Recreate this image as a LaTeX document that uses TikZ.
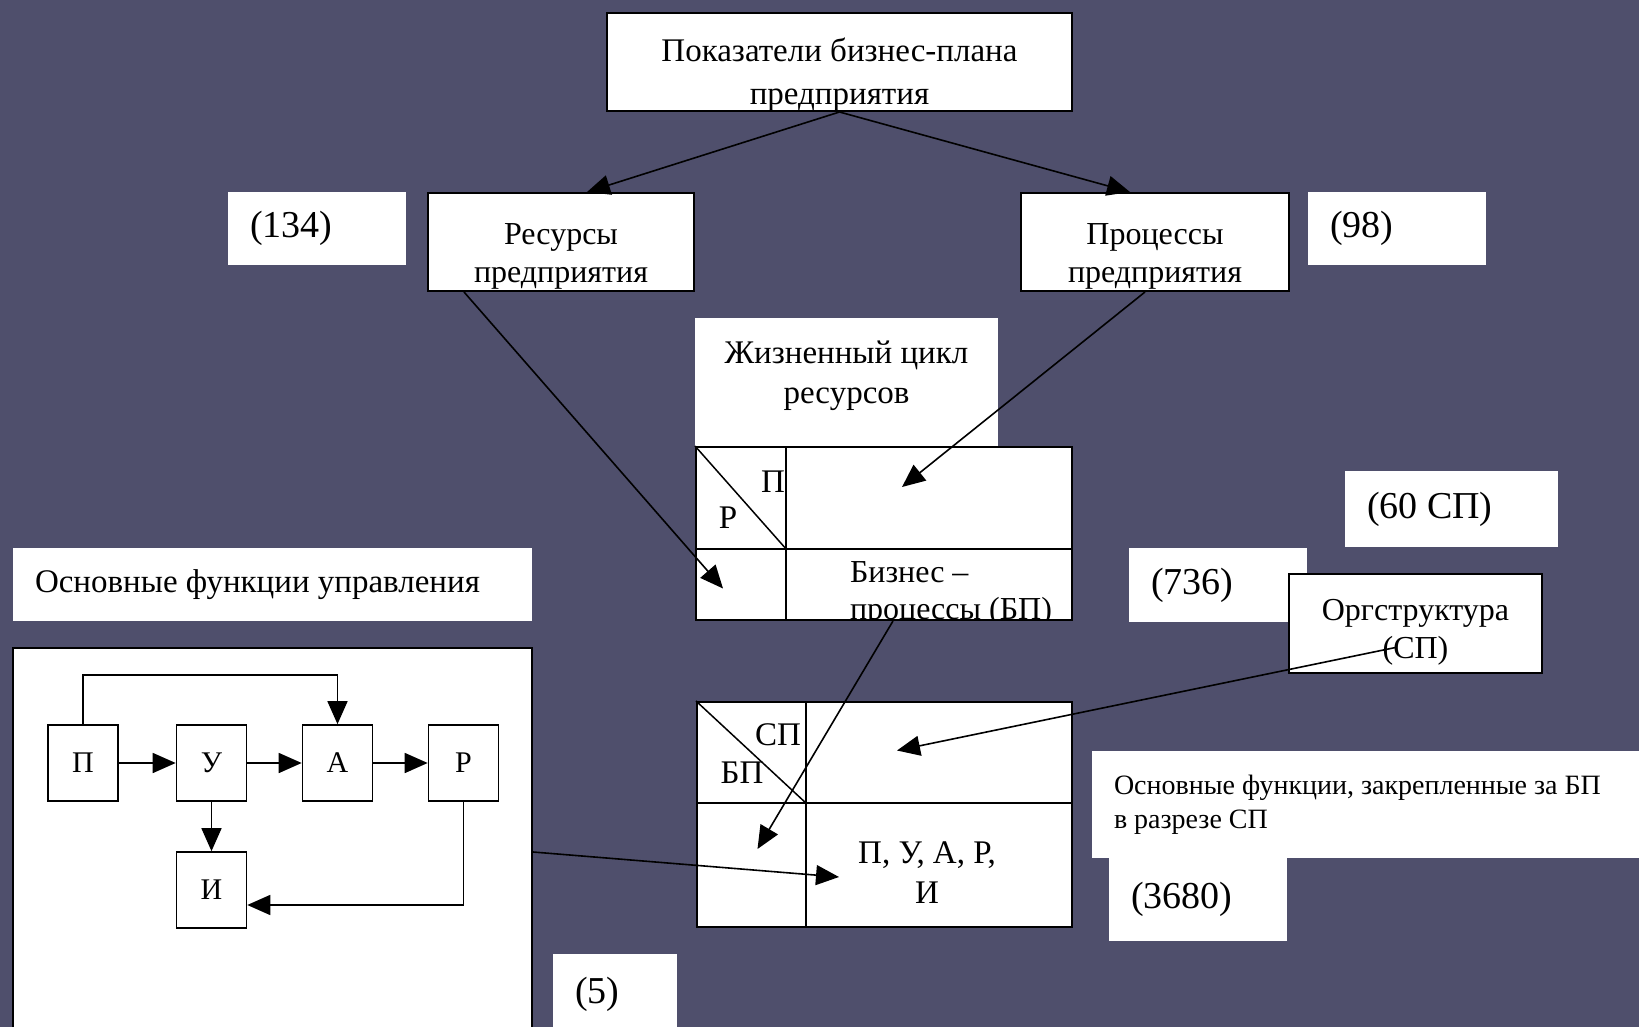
\documentclass[tikz,border=0pt]{standalone}
\usepackage{fontspec}
\setmainfont{Liberation Serif}
\usetikzlibrary{arrows.meta}
\definecolor{slide}{RGB}{79,79,108}

\begin{document}
\begin{tikzpicture}[x=1pt,y=-1pt,font=\fontsize{33}{40}\selectfont,
  box/.style={draw,line width=2pt,fill=white,inner sep=0pt},
  cell/.style={draw,line width=2pt,fill=white,inner sep=0pt},
  cnt/.style={fill=white,inner ysep=0pt,inner xsep=22pt,align=flush left,
              font=\fontsize{38}{44}\selectfont},
  fn/.style={draw,line width=1.6pt,fill=white,inner sep=0pt,
             minimum width=70pt,minimum height=76pt,font=\fontsize{30}{36}\selectfont},
  arr/.style={line width=1.6pt,-{Triangle[length=23pt,width=20pt]}}]
  \fill[slide] (0,0) rectangle (1639,1027);
  \useasboundingbox (0,0) rectangle (1639,1027);

  \node[cnt,text width=134pt,minimum height=73pt] (n134) at (317,228.5) {(134)};
  \node[cnt,text width=134pt,minimum height=73pt] (n98) at (1397,228.5) {(98)};
  \node[cnt,text width=169pt,minimum height=76pt] (n60) at (1451.5,509) {(60 СП)};
  \node[cnt,text width=134pt,minimum height=74pt] (n736) at (1218,585) {(736)};
  \node[cnt,text width=134pt,minimum height=83pt] (n3680) at (1198,899.5) {(3680)};
  \node[cnt,text width=80pt,minimum height=81pt] (n5) at (615,994.5) {(5)};
  \node[cnt,text width=475pt,minimum height=73pt,font=\fontsize{33}{40}\selectfont]
    (fhead) at (272.5,584.5) {Основные функции управления};
  \node[cnt,text width=514pt,minimum height=107pt,font=\fontsize{28}{34}\selectfont]
    (fnote) at (1371,804.5) {Основные функции, закрепленные за БП\\в разрезе СП};
  \node[fill=white,inner sep=0pt,minimum width=303pt,minimum height=129pt,
    path picture={\node[align=center] at ([yshift=7pt]path picture bounding box.center)
      {Жизненный цикл\\ресурсов};}] (life) at (846.5,382.5) {};

  \node[box,minimum width=465pt,minimum height=98pt,
    path picture={\node[align=center,font=\fontsize{33}{43}\selectfont]
      at ([yshift=-13pt]path picture bounding box.center) {Показатели бизнес-плана\\предприятия};}]
    (plan) at (839.5,62) {};
  \node[box,minimum width=266pt,minimum height=98pt,
    path picture={\node[align=center,font=\fontsize{32}{38}\selectfont]
      at ([yshift=-14pt]path picture bounding box.center) {Ресурсы\\предприятия};}]
    (res) at (561,242) {};
  \node[box,minimum width=268pt,minimum height=98pt,
    path picture={\node[align=center,font=\fontsize{32}{38}\selectfont]
      at ([yshift=-14pt]path picture bounding box.center) {Процессы\\предприятия};}]
    (proc) at (1155,242) {};
  \node[box,minimum width=253pt,minimum height=99pt,
    path picture={\node[align=center,font=\fontsize{32}{38}\selectfont]
      at ([yshift=-9pt]path picture bounding box.center) {Оргструктура\\(СП)};}]
    (org) at (1415.5,623.5) {};

  \node[cell,minimum width=90pt,minimum height=102pt] (t1a) at (741,498) {};
  \node[cell,minimum width=286pt,minimum height=102pt] (t1b) at (929,498) {};
  \node[cell,minimum width=90pt,minimum height=71pt] (t1c) at (741,584.5) {};
  \node[cell,minimum width=286pt,minimum height=71pt,
    path picture={\node[anchor=north west,align=left,inner sep=0pt,font=\fontsize{32}{37}\selectfont]
      at ([xshift=21pt,yshift=-8pt]path picture bounding box.north west) {Бизнес –\\процессы (БП)};}]
    (t1d) at (929,584.5) {};
  \draw[line width=1.5pt] (t1a.north west) -- (t1a.south east);
  \node (t1p) at (773,482) {П};
  \node (t1r) at (728,518) {Р};

  \node[cell,minimum width=109pt,minimum height=101pt] (t2a) at (751.5,752.5) {};
  \node[cell,minimum width=266pt,minimum height=101pt] (t2b) at (939,752.5) {};
  \node[cell,minimum width=109pt,minimum height=124pt] (t2c) at (751.5,865) {};
  \node[cell,minimum width=266pt,minimum height=124pt,
    path picture={\node[align=center]
      at ([xshift=-12pt,yshift=-8pt]path picture bounding box.center) {П, У, А, Р,\\И};}]
    (t2d) at (939,865) {};
  \draw[line width=1.5pt] (t2a.north west) -- (t2a.south east);
  \node (t2s) at (778,735) {СП};
  \node (t2bp) at (742,773) {БП};

  \node[box,minimum width=519pt,minimum height=392pt] (fbox) at (272.5,844) {};
  \node[fn] (P) at (83,763) {П};
  \node[fn] (U) at (211.5,763) {У};
  \node[fn] (A) at (337.5,763) {А};
  \node[fn] (R) at (463.5,763) {Р};
  \node[fn] (I) at (211.5,890) {И};
  \draw[arr] (P) -- (U);
  \draw[arr] (U) -- (A);
  \draw[arr] (A) -- (R);
  \draw[arr] (P.north) -- ++(0,-49) -| (A.north);
  \draw[arr] (U) -- (I);
  \draw[arr] (R.south) |- ([yshift=-15pt]I.east);

  \draw[arr] (plan.south) -- ([xshift=26pt]res.north);
  \draw[arr] (plan.south) -- ([xshift=-25pt]proc.north);
  \draw[arr] ([xshift=37pt]res.south west) -- ([xshift=-18pt,yshift=-4pt]t1c.center);
  \draw[arr] ([xshift=-10pt]proc.south) -- ([xshift=-27pt,yshift=11pt]t1b.center);
  \draw[arr] ([xshift=-36pt]t1d.south) -- ([xshift=6pt,yshift=16pt]t2c.center);
  \draw[arr] ([xshift=-20pt,yshift=-24pt]org.center) -- ([xshift=-42pt,yshift=2pt]t2b.center);
  \draw[arr] ([yshift=-8pt]fbox.east) -- ([xshift=34pt,yshift=-12pt]t2d.west);
\end{tikzpicture}
\end{document}
